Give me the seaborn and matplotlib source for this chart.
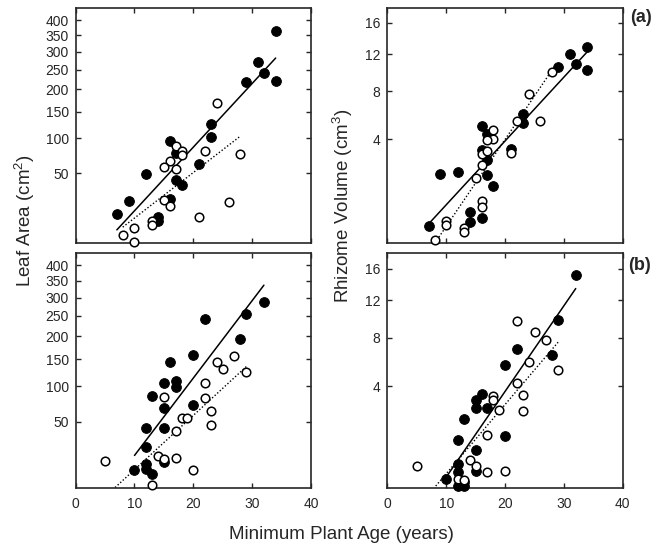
import numpy as np
import seaborn as sns
import matplotlib.pyplot as plt

sns.set_style("ticks")
plt.rcParams['font.family'] = ['Liberation Sans', 'DejaVu Sans']
plt.rcParams['mathtext.fontset'] = 'custom'
plt.rcParams['mathtext.rm'] = 'Liberation Sans'
plt.rcParams['mathtext.it'] = 'Liberation Sans'

# (a) leaf area
leaf_a_filled_age = [34, 31, 32, 34, 29, 23, 23, 16, 17, 21, 12, 17, 18, 16, 9, 7, 14, 14]
leaf_a_filled_area = [365, 271, 242, 220, 217, 125, 103, 96, 77, 61, 49, 42, 37, 24, 22, 13.2, 11.6, 9.4]
leaf_a_open_age = [24, 28, 22, 17, 18, 18, 16, 15, 17, 15, 16, 26, 21, 13, 13, 10, 8, 10]
leaf_a_open_area = [169, 75.5, 80, 87, 80, 74.5, 66, 57, 55, 23, 18.8, 21.8, 11.6, 9.4, 7.3, 6.1, 3.5, 1.6]
leaf_a_fit_solid = ([7, 34], [5.2, 282])
leaf_a_fit_dotted = ([8, 28], [6.3, 104])

# (a) rhizome volume
rhiz_a_filled_age = [34, 31, 32, 34, 29, 23, 23, 16, 17, 21, 16, 17, 17, 18, 9, 12, 7, 14, 14, 16]
rhiz_a_filled_vol = [12.9, 12.0, 10.8, 10.2, 10.55, 5.9, 5.2, 5.0, 4.4, 3.4, 3.3, 2.7, 1.95, 1.46,
                     2.0, 2.08, 0.26, 0.58, 0.35, 0.43]
rhiz_a_open_age = [28, 24, 22, 26, 18, 18, 17, 21, 16, 17, 16, 15, 16, 16, 10, 10, 13, 13, 8]
rhiz_a_open_vol = [10.0, 7.7, 5.4, 5.36, 4.64, 4.05, 3.98, 3.12, 3.06, 3.22, 2.42, 1.8, 0.88, 0.71,
                   0.36, 0.28, 0.235, 0.17, 0.075]
rhiz_a_fit_solid = ([7.2, 34], [0.33, 12.3])
rhiz_a_fit_dotted = ([8.4, 28], [0.075, 10.2])

# (b) leaf area
leaf_b_filled_age = [32, 29, 28, 22, 20, 16, 15, 17, 17, 13, 20, 15, 12, 15, 12, 12, 12, 10, 13, 15]
leaf_b_filled_area = [287, 255, 194, 241, 158, 144, 105, 109, 99, 85, 71, 67, 43, 43, 25, 12.7, 9.9,
                      9.2, 7.6, 14]
leaf_b_open_age = [29, 27, 24, 25, 22, 22, 15, 23, 23, 18, 19, 17, 14, 15, 17, 5, 20, 13]
leaf_b_open_area = [125, 157, 144, 130, 105, 81, 83, 63, 46.5, 54, 54, 40, 17.5, 16, 16.4, 14.8, 9.2, 3.2]
leaf_b_fit_solid = ([10, 32], [18.2, 337])
leaf_b_fit_dotted = ([6.7, 29], [2.6, 135])

# (b) rhizome volume
rhiz_b_filled_age = [32, 29, 28, 22, 20, 16, 15, 15, 17, 13, 20, 12, 15, 12, 12, 15, 10, 12, 13, 13]
rhiz_b_filled_vol = [15.1, 9.8, 6.4, 6.9, 5.6, 3.47, 3.13, 2.69, 2.69, 2.09, 1.32, 1.17, 0.84, 0.46,
                     0.30, 0.31, 0.18, 0.095, 0.095, 0.145]
rhiz_b_open_age = [22, 25, 27, 24, 29, 22, 23, 18, 18, 19, 23, 17, 14, 15, 5, 17, 20, 12, 13]
rhiz_b_open_vol = [9.7, 8.5, 7.8, 5.8, 5.2, 4.2, 3.43, 3.35, 3.13, 2.53, 2.5, 1.37, 0.55, 0.41, 0.42,
                   0.29, 0.31, 0.18, 0.17]
rhiz_b_fit_solid = ([9.9, 32], [0.2, 13.4])
rhiz_b_fit_dotted = ([8.2, 29], [0.095, 7.56])

age_ticks = [0, 10, 20, 30, 40]
leaf_ticks = [50, 100, 150, 200, 250, 300, 350, 400]
rhiz_ticks = [4, 8, 12, 16]


def sqrt_fwd(v):
    return np.sqrt(np.clip(v, 0, None))


def sqrt_inv(v):
    return np.square(v)


def draw_panel(ax, f_x, f_y, o_x, o_y, solid, dotted, yticks, ylim, xlabels):
    ax.set_yscale('function', functions=(sqrt_fwd, sqrt_inv))
    sns.lineplot(x=solid[0], y=solid[1], ax=ax, color='black', lw=1.1, sort=False)
    sns.lineplot(x=dotted[0], y=dotted[1], ax=ax, color='black', lw=1.0,
                 linestyle=(0, (1, 1.5)), sort=False)
    sns.scatterplot(x=f_x, y=f_y, ax=ax, color='black', s=50, edgecolor='black',
                    linewidth=0.6, clip_on=False, zorder=3)
    sns.scatterplot(x=o_x, y=o_y, ax=ax, color='white', s=38, edgecolor='black',
                    linewidth=1.1, clip_on=False, zorder=3)
    ax.set_xlim(0, 40)
    ax.set_ylim(*ylim)
    ax.set_xticks(age_ticks)
    ax.set_yticks(yticks)
    ax.set_yticklabels([str(t) for t in yticks])
    ax.minorticks_off()
    ax.tick_params(direction='in', length=3.6, width=1, top=True, right=True,
                   labelsize=10, pad=5, labelbottom=xlabels)
    ax.tick_params(axis='x', pad=7)
    for sp in ax.spines.values():
        sp.set_linewidth(1.2)
    ax.set_xlabel('')
    ax.set_ylabel('')


fig = plt.figure(figsize=(6.65, 5.49), dpi=100)
ax_la = fig.add_axes([0.1138, 0.558, 0.3538, 0.427])
ax_ra = fig.add_axes([0.5827, 0.558, 0.3538, 0.427])
ax_lb = fig.add_axes([0.1138, 0.1117, 0.3538, 0.427])
ax_rb = fig.add_axes([0.5827, 0.1117, 0.3538, 0.427])

draw_panel(ax_la, leaf_a_filled_age, leaf_a_filled_area, leaf_a_open_age, leaf_a_open_area,
           leaf_a_fit_solid, leaf_a_fit_dotted, leaf_ticks, (1.2 ** 2, 21 ** 2), False)
draw_panel(ax_ra, rhiz_a_filled_age, rhiz_a_filled_vol, rhiz_a_open_age, rhiz_a_open_vol,
           rhiz_a_fit_solid, rhiz_a_fit_dotted, rhiz_ticks, (0.23 ** 2, 4.25 ** 2), False)
draw_panel(ax_lb, leaf_b_filled_age, leaf_b_filled_area, leaf_b_open_age, leaf_b_open_area,
           leaf_b_fit_solid, leaf_b_fit_dotted, leaf_ticks, (1.6 ** 2, 21 ** 2), True)
draw_panel(ax_rb, rhiz_b_filled_age, rhiz_b_filled_vol, rhiz_b_open_age, rhiz_b_open_vol,
           rhiz_b_fit_solid, rhiz_b_fit_dotted, rhiz_ticks, (0.28 ** 2, 4.26 ** 2), True)

fig.text(0.038, 0.599, 'Leaf Area (cm$^2$)', rotation=90, ha='center', va='center', fontsize=13.5)
fig.text(0.515, 0.625, 'Rhizome Volume (cm$^3$)', rotation=90, ha='center', va='center', fontsize=13.5)
fig.text(0.514, 0.027, 'Minimum Plant Age (years)', ha='center', va='center', fontsize=13.5)
fig.text(0.964, 0.969, '(a)', ha='center', va='center', fontsize=13, fontweight='bold')
fig.text(0.962, 0.517, '(b)', ha='center', va='center', fontsize=13, fontweight='bold')

fig.savefig('out.png', dpi=100)
